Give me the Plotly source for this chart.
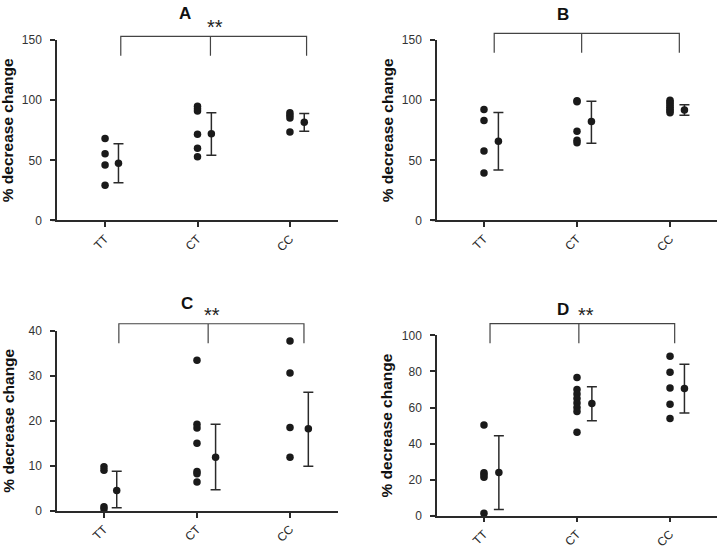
import plotly.graph_objects as go

W, H = 718, 549
FONT = "Arial, Liberation Sans, sans-serif"

categories = ["TT", "CT", "CC"]

# ---- Panel A ----
a_tt = [68.1, 55.4, 46.2, 29.2]
a_ct = [95.0, 93.0, 91.0, 71.6, 60.0, 53.0]
a_cc = [89.6, 87.4, 85.2, 73.5]
a_mean = [47.6, 72.2, 81.6]
a_hi = [63.8, 89.5, 88.9]
a_lo = [31.4, 54.3, 74.1]

# ---- Panel B ----
b_tt = [92.2, 83.2, 57.8, 39.5]
b_ct = [99.5, 98.8, 74.1, 66.8, 64.6]
b_cc = [100.0, 98.5, 97.0, 95.5, 94.0, 92.5, 91.0, 89.5]
b_mean = [65.9, 82.2, 91.9]
b_hi = [89.7, 99.2, 96.2]
b_lo = [41.9, 64.3, 87.6]

# ---- Panel C ----
c_tt = [9.8, 9.0, 0.9, 0.4, -0.2]
c_ct = [33.4, 19.2, 18.4, 15.0, 8.75, 8.2, 6.4]
c_cc = [37.7, 30.6, 18.5, 11.9]
c_mean = [4.5, 11.9, 18.2]
c_hi = [8.8, 19.2, 26.3]
c_lo = [0.7, 4.7, 9.9]

# ---- Panel D ----
d_tt = [50.3, 23.8, 22.7, 21.3, 1.3]
d_ct = [76.6, 70.0, 67.5, 65.0, 62.5, 60.0, 57.8, 46.3]
d_cc = [88.5, 79.6, 70.8, 61.8, 53.9]
d_mean = [24.0, 62.2, 70.5]
d_hi = [44.3, 71.5, 84.0]
d_lo = [3.4, 52.6, 56.9]

y_title = "% decrease change"

panels = [
    dict(name="A", groups=[a_tt, a_ct, a_cc], mean=a_mean, hi=a_hi, lo=a_lo,
         xpx=(57, 338), xr=[-0.52, 2.52], zero=219, tickpx=34,
         ticks=[0, 50, 100, 150], offs=[0.145, 0.15, 0.155],
         br=[0.17, 1.14, 2.18], br_top=153.2, br_bot=137.0,
         title_xy=(185, 7), stars_xy=(214.5, 21), ytitle_x=7),
    dict(name="B", groups=[b_tt, b_ct, b_cc], mean=b_mean, hi=b_hi, lo=b_lo,
         xpx=(437, 717), xr=[-0.505, 2.505], zero=219, tickpx=34,
         ticks=[0, 50, 100, 150], offs=[0.155, 0.155, 0.155],
         br=[0.11, 1.05, 2.10], br_top=155.7, br_bot=139.5,
         title_xy=(563, 7.5), stars_xy=None, ytitle_x=387),
    dict(name="C", groups=[c_tt, c_ct, c_cc], mean=c_mean, hi=c_hi, lo=c_lo,
         xpx=(57, 338), xr=[-0.505, 2.516], zero=517, tickpx=332,
         ticks=[0, 10, 20, 30, 40], offs=[0.137, 0.2, 0.197],
         br=[0.16, 1.12, 2.15], br_top=41.5, br_bot=37.2,
         title_xy=(187, 304.5), stars_xy=(212, 316), ytitle_x=9),
    dict(name="D", groups=[d_tt, d_ct, d_cc], mean=d_mean, hi=d_hi, lo=d_lo,
         xpx=(437, 717), xr=[-0.505, 2.505], zero=522, tickpx=337,
         ticks=[0, 20, 40, 60, 80, 100], offs=[0.16, 0.16, 0.155],
         br=[0.065, 1.02, 2.05], br_top=106.5, br_bot=95.7,
         title_xy=(563, 310), stars_xy=(585.7, 316.5), ytitle_x=387),
]

fig = go.Figure()
layout = dict(width=W, height=H, margin=dict(l=0, r=0, t=0, b=0),
              paper_bgcolor="white", plot_bgcolor="white", showlegend=False,
              font=dict(family=FONT, color="#333333"))
shapes, annotations = [], []
DOT = "#1a1a1a"
LINE = "#2a2a2a"

for i, p in enumerate(panels):
    k = "" if i == 0 else str(i + 1)
    xa, ya = "x" + k, "y" + k
    ytop = p["ticks"][-1]
    xdom = [p["xpx"][0] / W, p["xpx"][1] / W]
    ydom = [1 - p["zero"] / H, 1 - p["tickpx"] / H]

    for gi, vals in enumerate(p["groups"]):
        fig.add_trace(go.Scatter(
            x=[gi] * len(vals), y=vals, mode="markers", xaxis=xa, yaxis=ya,
            marker=dict(size=7.5, color=DOT), cliponaxis=False, hoverinfo="y"))
    mx = [gi + p["offs"][gi] for gi in range(3)]
    fig.add_trace(go.Scatter(
        x=mx, y=p["mean"], mode="markers", xaxis=xa, yaxis=ya,
        marker=dict(size=7.5, color=DOT), cliponaxis=False,
        error_y=dict(type="data", symmetric=False,
                     array=[h - m for h, m in zip(p["hi"], p["mean"])],
                     arrayminus=[m - l for m, l in zip(p["mean"], p["lo"])],
                     color=LINE, thickness=1.5, width=5)))

    layout["xaxis" + k] = dict(
        domain=xdom, range=p["xr"], anchor=ya, tickmode="array",
        tickvals=[0, 1, 2], ticktext=categories, tickangle=-45,
        showline=True, linecolor=LINE, linewidth=1.5,
        showgrid=False, zeroline=False,
        ticks="outside", ticklen=5, tickwidth=1.5, tickcolor=LINE,
        tickfont=dict(size=12, color="#2a2a2a", family=FONT))
    layout["yaxis" + k] = dict(
        domain=ydom, range=[0, ytop], anchor=xa, tickmode="array",
        tickvals=p["ticks"], showline=True, linecolor=LINE, linewidth=1.5,
        showgrid=False, zeroline=False,
        ticks="outside", ticklen=5, tickwidth=1.5, tickcolor=LINE,
        ticklabelstandoff=6,
        tickfont=dict(size=12, color="#333333", family=FONT))

    # helpers mapping axis values to paper fractions (for decorations outside the plot area)
    def px(v, xdom=xdom, xr=p["xr"]):
        return xdom[0] + (v - xr[0]) / (xr[1] - xr[0]) * (xdom[1] - xdom[0])

    def py(v, ydom=ydom, ytop=ytop):
        return ydom[0] + v / ytop * (ydom[1] - ydom[0])

    # small overshoot of the x-axis line to the left of the y axis
    shapes.append(dict(type="path", xref="paper", yref="paper",
                       path=f"M {xdom[0] - 5 / W},{ydom[0]} L {xdom[0]},{ydom[0]}",
                       line=dict(color=LINE, width=1.5)))
    # significance bracket
    b0, b1, b2 = (px(v) for v in p["br"])
    t, bt = py(p["br_top"]), py(p["br_bot"])
    path = (f"M {b0},{bt} L {b0},{t} L {b2},{t} L {b2},{bt} "
            f"M {b1},{t} L {b1},{bt}")
    shapes.append(dict(type="path", xref="paper", yref="paper", path=path,
                       line=dict(color="#444444", width=1.2)))

    # panel letter
    tx, ty = p["title_xy"]
    annotations.append(dict(text="<b>" + p["name"] + "</b>", xref="paper", yref="paper",
                            x=tx / W, y=1 - ty / H, xanchor="center", yanchor="middle",
                            showarrow=False, font=dict(size=17, color="#111111", family=FONT)))
    if p["stars_xy"]:
        sx, sy = p["stars_xy"]
        annotations.append(dict(text="**", xref="paper", yref="paper",
                                x=sx / W, y=1 - sy / H, xanchor="center", yanchor="middle",
                                showarrow=False, font=dict(size=20, color="#222222", family=FONT)))
    # y title
    annotations.append(dict(text="<b>" + y_title + "</b>", xref="paper", yref=ya,
                            x=p["ytitle_x"] / W, y=ytop / 2, xanchor="center", yanchor="middle",
                            textangle=-90, showarrow=False,
                            font=dict(size=15.5, color="#111111", family=FONT)))

layout["shapes"] = shapes
layout["annotations"] = annotations
fig.update_layout(**layout)
fig.write_html(
    "out.html",
    config={"displayModeBar": False},
    post_script="document.body.style.margin='0';document.body.style.padding='0';"
                "document.documentElement.style.overflow='hidden';",
)
